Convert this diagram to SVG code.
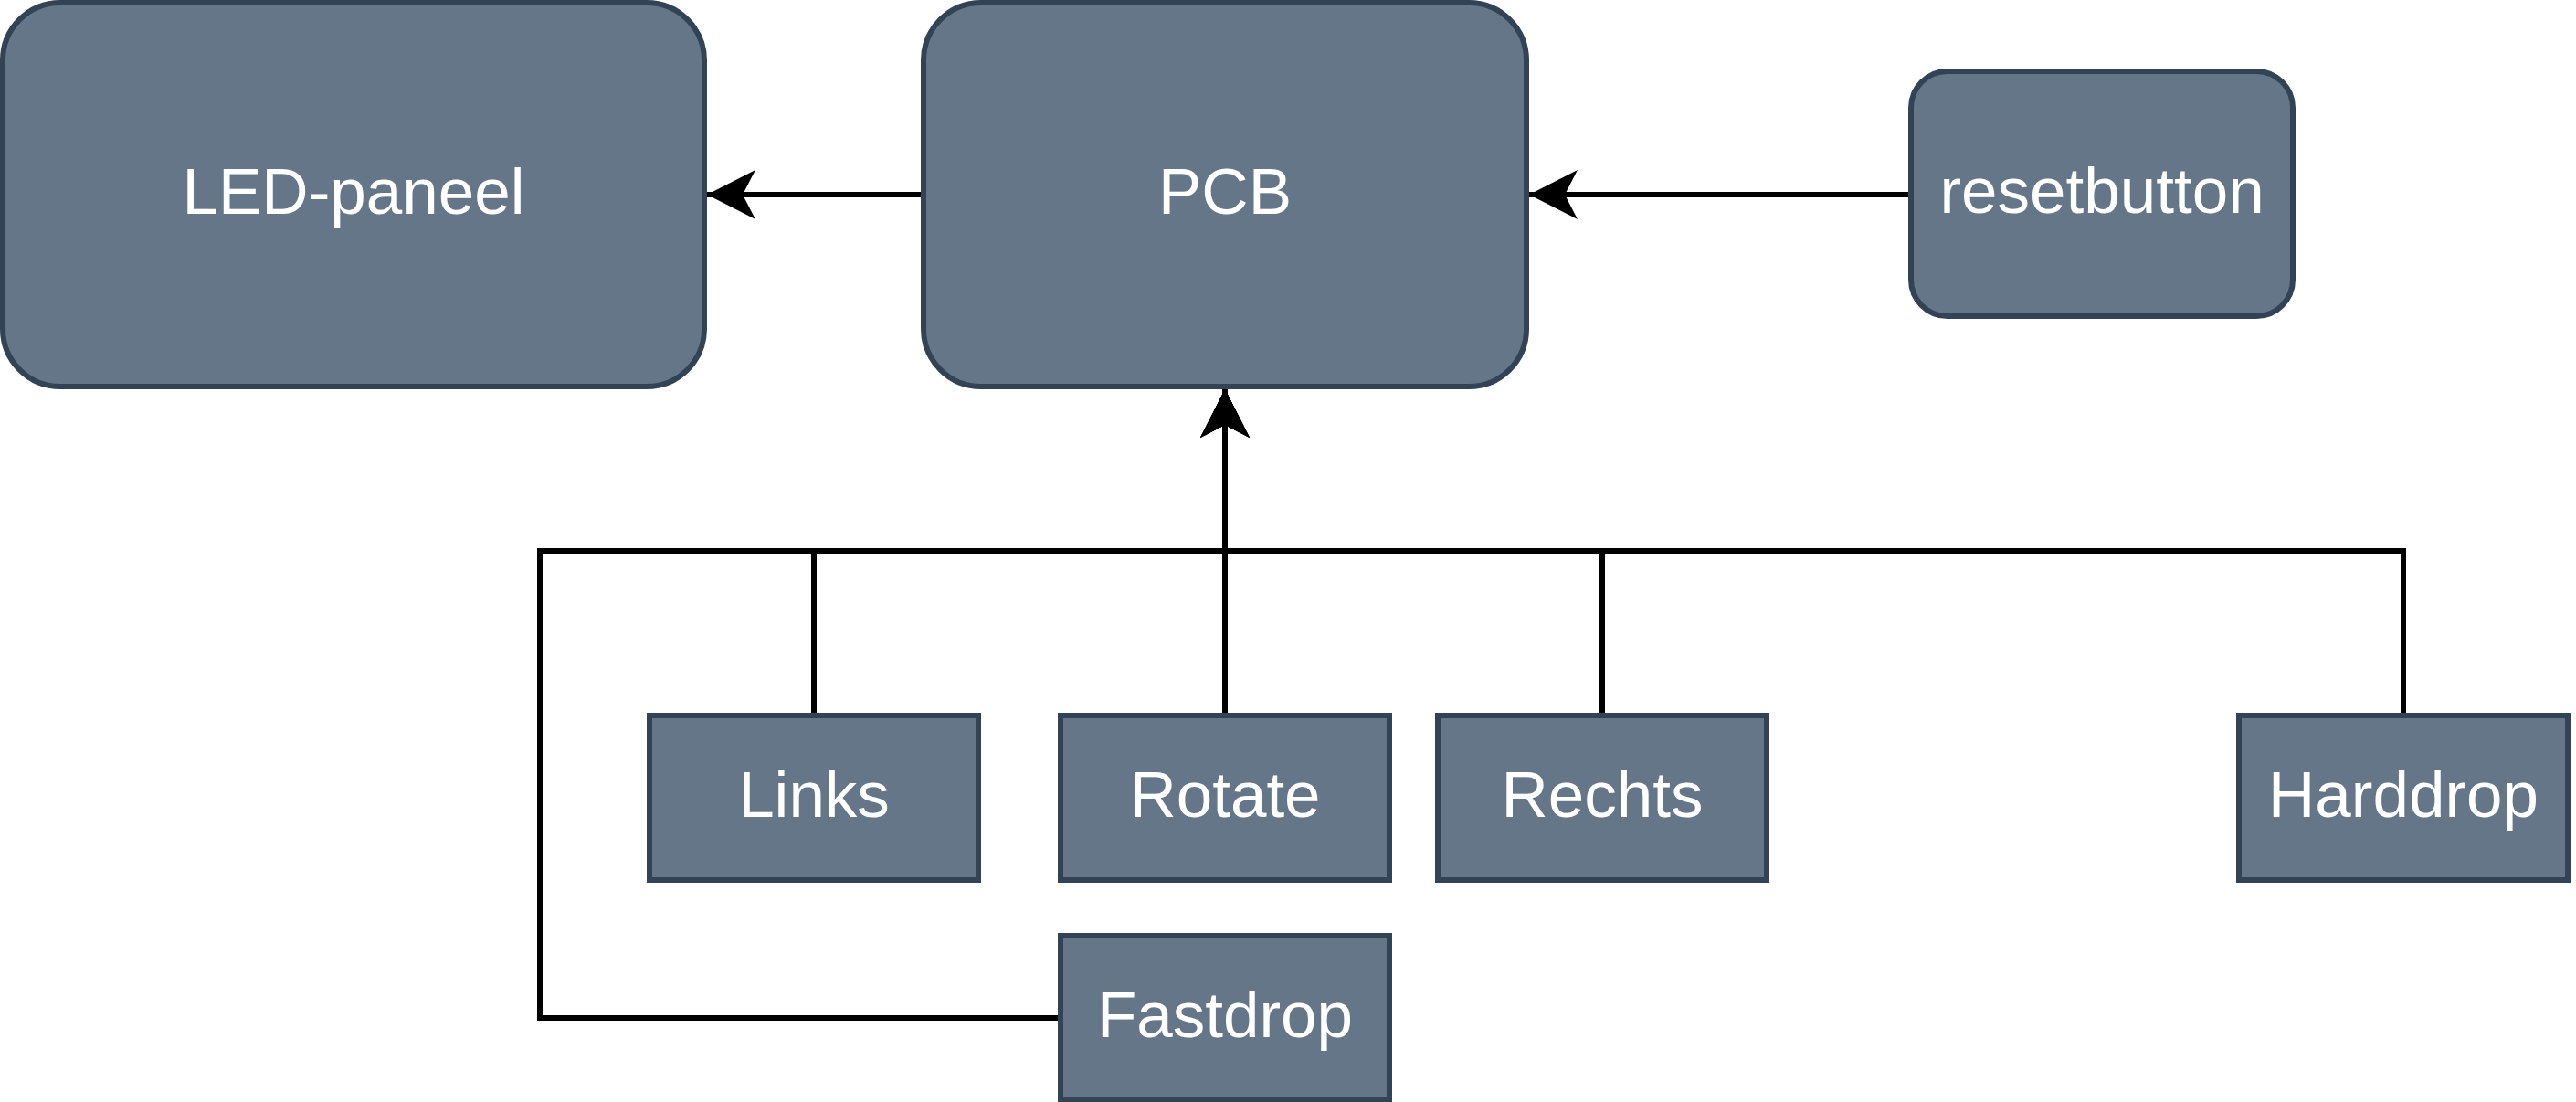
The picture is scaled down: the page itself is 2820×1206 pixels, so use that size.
<svg xmlns="http://www.w3.org/2000/svg" width="2820" height="1206" viewBox="0 0 2820 1206">
<style>
.node{fill:#647687;stroke:#314354;stroke-width:6}
.lbl{fill:#ffffff;font-family:"Liberation Sans",Arial,sans-serif;font-size:71px;text-anchor:middle}
.edge{fill:none;stroke:#000000;stroke-width:6}
</style>
<defs>
<marker id="arr" markerUnits="userSpaceOnUse" viewBox="0 0 53 54" markerWidth="53" markerHeight="54" refX="53" refY="27" orient="auto">
<path d="M53,27 L0,0 L14,27 L0,54 Z" fill="#000000"/>
</marker>
</defs>
<rect width="2820" height="1206" fill="#ffffff"/>
<g id="connectors">
<path class="edge" d="M1011,213 L774,213" marker-end="url(#arr)"/>
<path class="edge" d="M2092,213 L1674,213" marker-end="url(#arr)"/>
<path class="edge" d="M891,780 L891,603 L1341,603 L1341,426" marker-end="url(#arr)"/>
<path class="edge" d="M1341,780 L1341,426" marker-end="url(#arr)"/>
<path class="edge" d="M1754,780 L1754,603 L1341,603 L1341,426" marker-end="url(#arr)"/>
<path class="edge" d="M2631,780 L2631,603 L1341,603 L1341,426" marker-end="url(#arr)"/>
<path class="edge" d="M1158,1114 L591,1114 L591,603 L1341,603 L1341,426" marker-end="url(#arr)"/>
</g>
<g id="led-paneel">
<rect class="node" x="3" y="3" width="768" height="420" rx="63" ry="63"/>
<text class="lbl" x="387" y="234">LED-paneel</text>
</g>
<g id="pcb">
<rect class="node" x="1011" y="3" width="660" height="420" rx="63" ry="63"/>
<text class="lbl" x="1341" y="234">PCB</text>
</g>
<g id="resetbutton">
<rect class="node" x="2092" y="78" width="418" height="268" rx="40" ry="40"/>
<text class="lbl" x="2301" y="233">resetbutton</text>
</g>
<g id="links">
<rect class="node" x="711" y="783" width="360" height="180"/>
<text class="lbl" x="891" y="894">Links</text>
</g>
<g id="rotate">
<rect class="node" x="1161" y="783" width="360" height="180"/>
<text class="lbl" x="1341" y="894">Rotate</text>
</g>
<g id="rechts">
<rect class="node" x="1574" y="783" width="360" height="180"/>
<text class="lbl" x="1754" y="894">Rechts</text>
</g>
<g id="harddrop">
<rect class="node" x="2451" y="783" width="360" height="180"/>
<text class="lbl" x="2631" y="894">Harddrop</text>
</g>
<g id="fastdrop">
<rect class="node" x="1161" y="1024" width="360" height="180"/>
<text class="lbl" x="1341" y="1135">Fastdrop</text>
</g>
</svg>
